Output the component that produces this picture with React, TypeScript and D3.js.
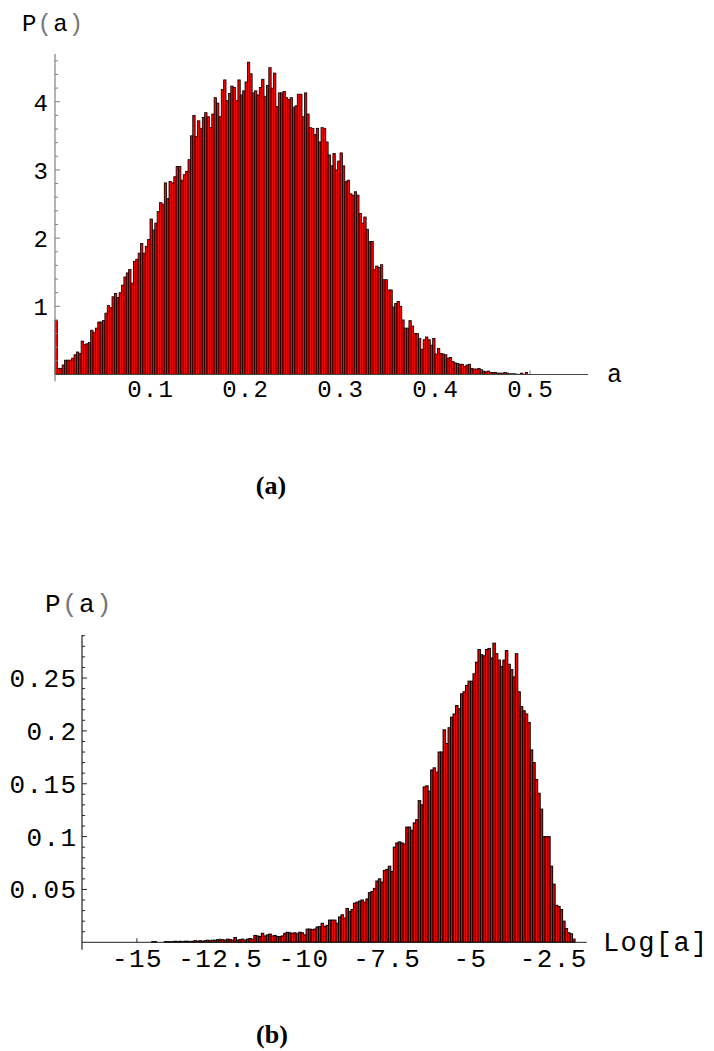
import React from 'react';
import * as d3 from 'd3';

const W = 714;
const H = 1051;

// panel (a): P(a), 200 bins of width 0.0025 from a = 0
const binStartA = 0;
const binWidthA = 0.0025;
const valuesA = [
  0.79, 0.09, 0.09, 0.14, 0.21, 0.21, 0.21, 0.24, 0.29, 0.33,
  0.31, 0.49, 0.44, 0.45, 0.47, 0.65, 0.62, 0.68, 0.77, 0.77,
  0.79, 0.90, 1.01, 0.98, 1.14, 1.19, 1.13, 1.20, 1.31, 1.43,
  1.49, 1.54, 1.34, 1.66, 1.69, 1.78, 1.92, 1.78, 1.88, 1.98,
  2.28, 2.12, 2.22, 2.39, 2.52, 2.50,
  2.81, 2.58, 2.83, 2.81, 2.90, 3.05, 3.05, 2.85, 2.93, 2.98,
  3.15, 3.50, 3.80, 3.49, 3.72, 3.61, 3.77, 3.84, 3.78, 3.62,
  3.82, 4.06, 3.98, 3.78, 4.18, 4.32, 4.02, 4.12, 4.23, 4.21,
  4.02, 4.32, 4.10, 4.16, 4.29, 4.58, 4.41, 4.13, 4.16, 4.10,
  4.21, 4.33, 4.08, 4.24, 4.50, 4.20, 4.42, 3.93, 4.13, 4.13,
  4.15, 4.06, 4.03, 4.06, 3.92, 3.94, 4.11, 4.11, 3.78, 4.13,
  3.82, 3.62, 3.61, 3.52, 3.61, 3.41, 3.62, 3.61, 3.41, 3.22,
  3.06, 3.24, 3.00, 3.13, 3.25, 3.06, 2.83, 2.85, 2.65, 2.63,
  2.68,
  2.63, 2.36, 2.22, 2.31, 2.13, 1.95, 1.95, 1.54, 1.59, 1.57,
  1.61, 1.39, 1.39, 1.24, 1.24, 0.99, 1.04, 1.07, 1.00, 0.80,
  0.68, 0.68, 0.79, 0.71, 0.60, 0.60, 0.53, 0.37, 0.51, 0.55,
  0.51, 0.43, 0.53, 0.30, 0.38, 0.31, 0.30, 0.29, 0.24, 0.25,
  0.19, 0.17, 0.16, 0.15, 0.15, 0.12, 0.14, 0.15, 0.09, 0.08,
  0.08, 0.09, 0.07, 0.05, 0.04, 0.05, 0.03, 0.03, 0.03, 0.02,
  0.02, 0.02, 0.03, 0.02, 0.01, 0.01, 0.01, 0.005, 0.003, 0.02,
  0.003, 0.03, 0,
];
const xTicksA = [0.1, 0.2, 0.3, 0.4, 0.5];
const xTickLabelsA = ['0.1', '0.2', '0.3', '0.4', '0.5'];
const yTicksA = [1, 2, 3, 4];
const yTickLabelsA = ['1', '2', '3', '4'];

// panel (b): P(a) against Log[a], bins of width ~0.075
const binStartB = -16.65;
const binWidthB = 0.0748;
const valuesB = [
  0, 0, 0, 0, 0, 0, 0, 0, 0, 0,
  0, 0, 0, 0, 0, 0, 0, 0, 0, 0,
  0, 0, 0, 0, 0, 0, 0, 0,
  0.0006, 0.0006, 0, 0, 0, 0.0006, 0.0006, 0.0006, 0.0006, 0.001,
  0.0006, 0.001, 0.0006, 0.001, 0.001, 0.0006, 0.001, 0.0015, 0.001, 0.0015,
  0.001, 0.0015, 0.002, 0.0015, 0.002, 0.002, 0.0025, 0.002, 0.0025, 0.002,
  0.003, 0.0025, 0.002, 0.0045, 0.002, 0.0025, 0.003, 0.002, 0.003, 0.0035,
  0.003, 0.0065, 0.006, 0.0055, 0.0085, 0.006, 0.007, 0.0078, 0.006, 0.0065,
  0.0055, 0.0055, 0.006, 0.0085, 0.0095, 0.009, 0.0085, 0.009, 0.008, 0.0095,
  0.009, 0.007, 0.0125, 0.0125, 0.012, 0.0125, 0.0145, 0.0148, 0.018, 0.015,
  0.016, 0.021, 0.021, 0.021, 0.018, 0.024, 0.026, 0.023, 0.032, 0.029,
  0.031, 0.037, 0.038, 0.039,
  0.040, 0.038, 0.041, 0.047, 0.048, 0.051, 0.058, 0.060, 0.057, 0.068,
  0.069, 0.072, 0.067, 0.090, 0.094, 0.095, 0.094, 0.093, 0.109, 0.109,
  0.106, 0.113, 0.116, 0.134, 0.130, 0.147, 0.148, 0.143, 0.163, 0.165,
  0.161, 0.180, 0.180, 0.201, 0.188, 0.203, 0.213, 0.216, 0.224, 0.221,
  0.235, 0.237, 0.243, 0.247, 0.247, 0.254, 0.265, 0.277, 0.272, 0.271,
  0.277, 0.278, 0.269, 0.283, 0.273, 0.267, 0.261, 0.267, 0.276, 0.263,
  0.258, 0.251, 0.273, 0.237, 0.223, 0.219, 0.216, 0.208, 0.182, 0.170,
  0.154, 0.141, 0.126, 0.100, 0.100, 0.100, 0.072, 0.055, 0.035, 0.034,
  0.031, 0.020, 0.013, 0.009, 0.008, 0.003,
];
const xTicksB = [-15, -12.5, -10, -7.5, -5, -2.5];
const xTickLabelsB = ['-15', '-12.5', '-10', '-7.5', '-5', '-2.5'];
const yTicksB = [0.05, 0.1, 0.15, 0.2, 0.25];
const yTickLabelsB = ['0.05', '0.1', '0.15', '0.2', '0.25'];

const MONO = '"Liberation Mono", "Courier New", monospace';

function Histogram({ cfg }) {
  const x = d3.scaleLinear().domain(cfg.xDomain).range(cfg.xRange);
  const y = d3.scaleLinear().domain(cfg.yDomain).range(cfg.yRange);
  const ax = cfg.xRange[0];
  const y0 = y(0);
  const ls = cfg.letterSpacing;

  // minor y ticks, skipping the labelled ones
  const minors = d3.range(1, Math.floor(cfg.yDomain[1] / cfg.minorStep + 1e-6) + 1)
    .map(k => k * cfg.minorStep)
    .filter(t => !cfg.yTicks.some(m => Math.abs(m - t) < cfg.minorStep / 10));

  return (
    <g>
      {/* x ticks sit under the bars */}
      {cfg.xTicks.map(t => (
        <line key={'xt' + t} x1={x(t)} x2={x(t)} y1={y0} y2={y0 - 4}
          stroke={cfg.axisColor} strokeWidth={1} />
      ))}
      {cfg.values.map((v, i) => {
        if (v <= 0) return null;
        const xl = x(cfg.binStart + i * cfg.binWidth);
        const xr = x(cfg.binStart + (i + 1) * cfg.binWidth);
        return (
          <rect key={i} x={xl} y={y(v)} width={xr - xl} height={y0 - y(v)}
            fill="#ff0000" stroke="#000" strokeWidth={cfg.barStroke} />
        );
      })}
      {/* axes */}
      <line x1={ax} x2={cfg.xRange[1]} y1={y0} y2={y0} stroke={cfg.xAxisColor} strokeWidth={1} />
      <line x1={ax} x2={ax} y1={y(cfg.yAxisBottom)} y2={y(cfg.yDomain[1])}
        stroke={cfg.axisColor} strokeWidth={1.2} />
      {minors.map(t => (
        <line key={'mn' + t} x1={ax} x2={ax + 3} y1={y(t)} y2={y(t)} stroke={cfg.axisColor} strokeWidth={1} />
      ))}
      {cfg.yTicks.map((t, i) => (
        <g key={'yt' + t}>
          <line x1={ax} x2={ax + 5} y1={y(t)} y2={y(t)} stroke={cfg.axisColor} strokeWidth={1} />
          <text x={ax - cfg.yLabelGap + ls} y={y(t) + cfg.yLabelDy} textAnchor="end"
            fontFamily={MONO} fontSize={cfg.fontSize} letterSpacing={ls} fill="#000">
            {cfg.yLabels[i]}
          </text>
        </g>
      ))}
      {cfg.xTicks.map((t, i) => (
        <text key={'xl' + t} x={x(t) + ls / 2} y={cfg.xLabelY} textAnchor="middle"
          fontFamily={MONO} fontSize={cfg.fontSize} letterSpacing={ls} fill="#000">
          {cfg.xLabels[i]}
        </text>
      ))}
      <text x={cfg.xTitle.x} y={cfg.xTitle.y} fontFamily={MONO} fontSize={cfg.fontSize + 1}
        letterSpacing={ls} fill="#000">{cfg.xTitle.text}</text>
      <text x={cfg.yTitle.x} y={cfg.yTitle.y} fontFamily={MONO} fontSize={cfg.fontSize}
        letterSpacing={ls} fill="#000">
        <tspan>P</tspan><tspan fill="#777">(</tspan><tspan>a</tspan><tspan fill="#777">)</tspan>
      </text>
      <text x={cfg.caption.x} y={cfg.caption.y} textAnchor="middle"
        fontFamily='"Liberation Serif", "Times New Roman", serif' fontWeight="bold" fontSize={26} fill="#000">
        {cfg.caption.text}
      </text>
    </g>
  );
}

const cfgA = {
  values: valuesA, binStart: binStartA, binWidth: binWidthA,
  xDomain: [0, 0.561], xRange: [55, 588],
  yDomain: [0, 4.7], yRange: [374.5, 54], yAxisBottom: -0.1,
  xTicks: xTicksA, xLabels: xTickLabelsA, yTicks: yTicksA, yLabels: yTickLabelsA,
  minorStep: 0.2, axisColor: '#808080', xAxisColor: '#444', barStroke: 0.8,
  fontSize: 24, letterSpacing: 1.2, yLabelGap: 7, yLabelDy: 9, xLabelY: 397,
  xTitle: { text: 'a', x: 607, y: 382 },
  yTitle: { x: 22, y: 31 },
  caption: { text: '(a)', x: 271, y: 494 },
};

const cfgB = {
  values: valuesB, binStart: binStartB, binWidth: binWidthB,
  xDomain: [-16.65, -1.49], xRange: [82, 586.7],
  yDomain: [0, 0.2907], yRange: [942.3, 635], yAxisBottom: -0.007,
  xTicks: xTicksB, xLabels: xTickLabelsB, yTicks: yTicksB, yLabels: yTickLabelsB,
  minorStep: 0.01, axisColor: '#222', xAxisColor: '#222', barStroke: 1.0,
  fontSize: 26, letterSpacing: 1.4, yLabelGap: 6, yLabelDy: 9, xLabelY: 967,
  xTitle: { text: 'Log[a]', x: 603, y: 951 },
  yTitle: { x: 45, y: 612 },
  caption: { text: '(b)', x: 272, y: 1043 },
};

export default function App() {
  return (
    <svg width={W} height={H} viewBox={`0 0 ${W} ${H}`}
      style={{ position: 'absolute', left: 0, top: 0, background: '#fff' }}>
      <rect width={W} height={H} fill="#fff" />
      <Histogram cfg={cfgA} />
      <Histogram cfg={cfgB} />
    </svg>
  );
}
